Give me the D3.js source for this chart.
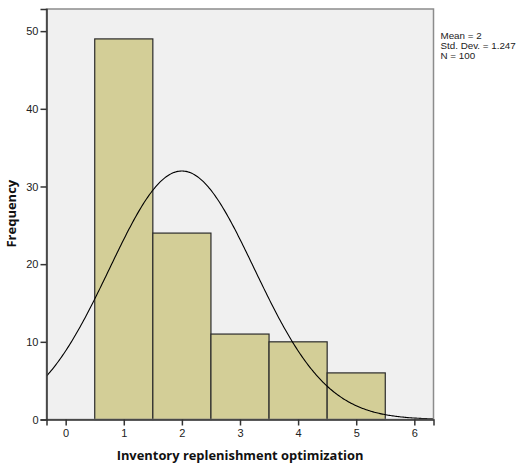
<!DOCTYPE html>
<html>
<head>
<meta charset="utf-8">
<script src="https://cdn.jsdelivr.net/npm/d3@7"></script>
<style>
  body { margin: 0; background: #fff; }
  text { font-family: "Liberation Sans", Arial, sans-serif; }
</style>
</head>
<body>
<script>
// histogram values
var categories = [1, 2, 3, 4, 5];
var counts = [49, 24, 11, 10, 6];
var xTicks = [0, 1, 2, 3, 4, 5, 6];
var yTicks = [0, 10, 20, 30, 40, 50];
var stats = { mean: 2, sd: 1.247, n: 100 };

var W = 521, H = 464;
var margin = {top: 9, right: 87, bottom: 44, left: 46.5},
    width = 433.5 - margin.left,
    height = 419.5 - margin.top;

var svg = d3.select("body").append("svg")
    .attr("width", W)
    .attr("height", H);

var g = svg.append("g")
    .attr("transform", "translate(" + margin.left + "," + margin.top + ")");

var x = d3.scaleLinear().domain([-0.33, 6.33]).range([0, width]);
var y = d3.scaleLinear().domain([0, 52.85]).range([height, 0]);

// plot background
g.append("rect")
    .attr("width", width)
    .attr("height", height)
    .attr("fill", "#f0f0f0");

// bars
g.selectAll(".bar")
    .data(categories)
    .enter().append("rect")
    .attr("class", "bar")
    .attr("x", function(d) { return x(d - 0.5); })
    .attr("width", function(d) { return x(d + 0.5) - x(d - 0.5); })
    .attr("y", function(d, i) { return y(counts[i]); })
    .attr("height", function(d, i) { return height - y(counts[i]); })
    .attr("fill", "#d3ce97")
    .attr("stroke", "#2b2b2b")
    .attr("stroke-width", 1.2);

// normal curve from mean / sd / N (bin width 1)
var curve = d3.range(-0.33, 6.331, 0.02).map(function(v) {
  var z = (v - stats.mean) / stats.sd;
  return [v, stats.n * Math.exp(-0.5 * z * z) / (stats.sd * Math.sqrt(2 * Math.PI))];
});
g.append("path")
    .datum(curve)
    .attr("fill", "none")
    .attr("stroke", "#000")
    .attr("stroke-width", 1.1)
    .attr("d", d3.line()
      .x(function(d) { return x(d[0]); })
      .y(function(d) { return y(d[1]); }));

// frame
g.append("rect")
    .attr("width", width)
    .attr("height", height)
    .attr("fill", "none")
    .attr("stroke", "#8c8c8c")
    .attr("stroke-width", 1.5);

// axes
var yAxis = g.append("g")
    .call(d3.axisLeft(y).tickValues(yTicks).tickFormat(d3.format("d")).tickSize(6).tickPadding(2));
var xAxis = g.append("g")
    .attr("transform", "translate(0," + height + ")")
    .call(d3.axisBottom(x).tickValues(xTicks).tickFormat(d3.format("d")).tickSize(6).tickPadding(4));

[yAxis, xAxis].forEach(function(a) {
  a.select(".domain").attr("stroke", "#333").attr("stroke-width", 1.5);
  a.selectAll(".tick line").attr("stroke", "#333").attr("stroke-width", 1.5);
  a.selectAll(".tick text")
    .attr("fill", "#222")
    .style("font-family", "Liberation Sans, Arial, sans-serif")
    .style("font-size", "11px");
});

// axis titles
svg.append("text")
    .attr("x", 240)
    .attr("y", 460)
    .attr("text-anchor", "middle")
    .style("font-family", "Open Sans, sans-serif")
    .style("font-weight", "bold")
    .style("font-size", "12.9px")
    .attr("fill", "#111")
    .text("Inventory replenishment optimization");

svg.append("text")
    .attr("transform", "translate(16," + (margin.top + y(26.5)) + ") rotate(-90)")
    .attr("text-anchor", "middle")
    .style("font-family", "Open Sans, sans-serif")
    .style("font-weight", "bold")
    .style("font-size", "13px")
    .attr("fill", "#111")
    .text("Frequency");

// stats box
var info = ["Mean = " + stats.mean, "Std. Dev. = " + stats.sd, "N = " + stats.n];
svg.selectAll(".info")
    .data(info)
    .enter().append("text")
    .attr("class", "info")
    .attr("x", 440.5)
    .attr("y", function(d, i) { return 38.5 + i * 10; })
    .style("font-size", "9.8px")
    .attr("fill", "#222")
    .text(function(d) { return d; });
</script>
</body>
</html>
